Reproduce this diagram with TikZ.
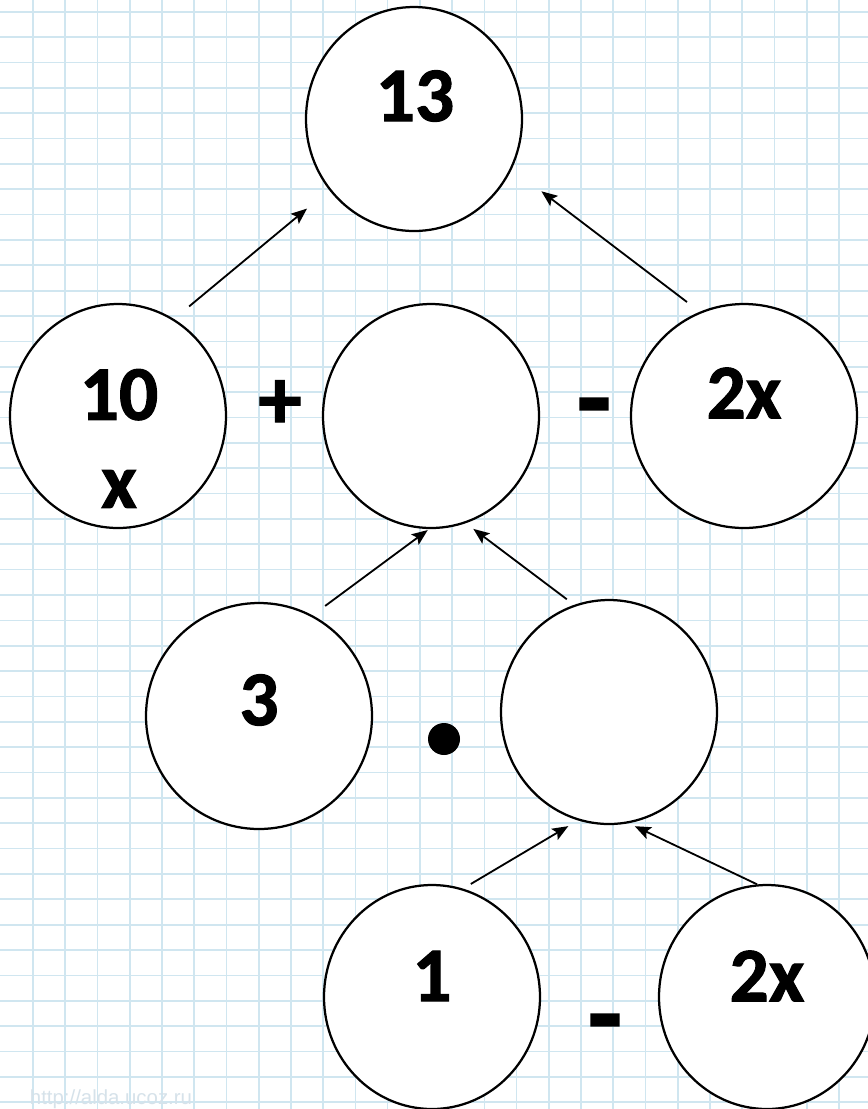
\documentclass[tikz,border=0pt]{standalone}
\usepackage{fontspec}
\setmainfont{Carlito}[BoldFeatures={FakeBold=1.4}]
\newfontfamily\sitefont{Liberation Sans}
\usepackage{tikz}
\usetikzlibrary{arrows.meta,shapes.geometric}

\definecolor{gridblue}{RGB}{208,230,240}
\definecolor{sitegray}{RGB}{214,226,234}

\begin{document}
\begin{tikzpicture}[
            % Grid lines of the squared paper
            gridline/.style={draw=gridblue, line width=1.2pt},
            % Circle for one term
            blob/.style={ellipse, draw, line width=1.6pt, fill=white, inner sep=0pt,
                         minimum width=5.4cm, minimum height=5.6cm},
            % Number/term text inside a circle
            num/.style={inner sep=0pt, font=\fontsize{55}{62.6}\selectfont\bfseries},
            % Operator signs between circles
            op/.style={inner sep=0pt, anchor=base, font=\fontsize{62}{62}\selectfont\bfseries},
            % Arrow style
            arr/.style={-{Stealth[length=4mm,width=3.2mm,inset=0.8mm]}, line width=1.3pt}
        ]
            % --- 1. SQUARED PAPER ---
            \useasboundingbox (0,0) rectangle (21.7,-27.725);
            \fill[white] (0,0) rectangle (21.7,-27.725);
            \clip (0,0) rectangle (21.7,-27.725);
            \foreach \i in {0,...,25}
                \draw[gridline] ({0.825+0.806*\i},0) -- ++(0,-27.725);
            \foreach \j in {0,...,43}
                \draw[gridline] (0,{-0.2925-0.634*\j}) -- ++(21.7,0);
            \node[anchor=base west, text=sitegray, font=\sitefont\fontsize{14.5}{16}\selectfont]
                (site) at (0.625,-27.6) {http://alda.ucoz.ru};

            % --- 2. TOP: 13 ---
            \node[blob] (n13) at (10.35,-2.975) {};
            \node[num] (t13) at (10.375,-2.4) {13};

            % --- 3. ROW 2: 10x + ( ) - 2x ---
            \node[blob] (n10x) at (2.95,-10.4) {};
            \node[num, align=center] (t10x) at (2.975,-10.96) {10\\x};
            \node[blob] (nmid) at (10.775,-10.4) {};
            \node[blob, minimum width=5.65cm] (n2x) at (18.6,-10.4) {};
            \node[num] (t2x) at (18.6,-9.825) {2x};
            \node[op] (plus) at (7.0,-10.72) {+};
            \node[op, font=\fontsize{80}{80}\selectfont\bfseries] (minusA) at (14.85,-10.9) {-};

            % --- 4. ROW 3: 3 . ( ) ---
            \node[blob, minimum width=5.65cm, minimum height=5.65cm] (n3) at (6.475,-17.9) {};
            \node[num] (t3) at (6.475,-17.5) {3};
            \node[blob] (nlow) at (15.225,-17.8) {};
            \node[circle, fill, inner sep=0pt, minimum size=0.8cm] (dot) at (11.1,-18.475) {};

            % --- 5. ROW 4: 1 - 2x ---
            \node[blob] (n1) at (10.8,-24.925) {};
            \node[num] (t1) at (10.8,-24.4) {1};
            \node[blob] (n2xb) at (19.175,-24.925) {};
            \node[num] (t2xb) at (19.175,-24.4) {2x};
            \node[op, font=\fontsize{80}{80}\selectfont\bfseries] (minusB) at (15.125,-26.3) {-};

            % --- 6. ARROWS UP THE TREE ---
            \draw[arr, shorten <=0.49cm, shorten >=0.72cm] (n10x.60) -- (n13.-140);
            \draw[arr, shorten <=0.40cm, shorten >=0.925cm] (n2x.113) -- (n13.-27);
            \draw[arr, shorten <=0.39cm, shorten >=0.04cm] (n3.62) -- (nmid.-91);
            \draw[arr, shorten <=0.23cm, shorten >=0.235cm] (nlow.108) -- (nmid.-72);
            \draw[arr, shorten <=0.225cm, shorten >=0.28cm] (n1.74) -- (nlow.-106);
            \draw[arr, shorten >=0.17cm] (n2xb.95) -- (nlow.-80);

        \end{tikzpicture}
\end{document}
